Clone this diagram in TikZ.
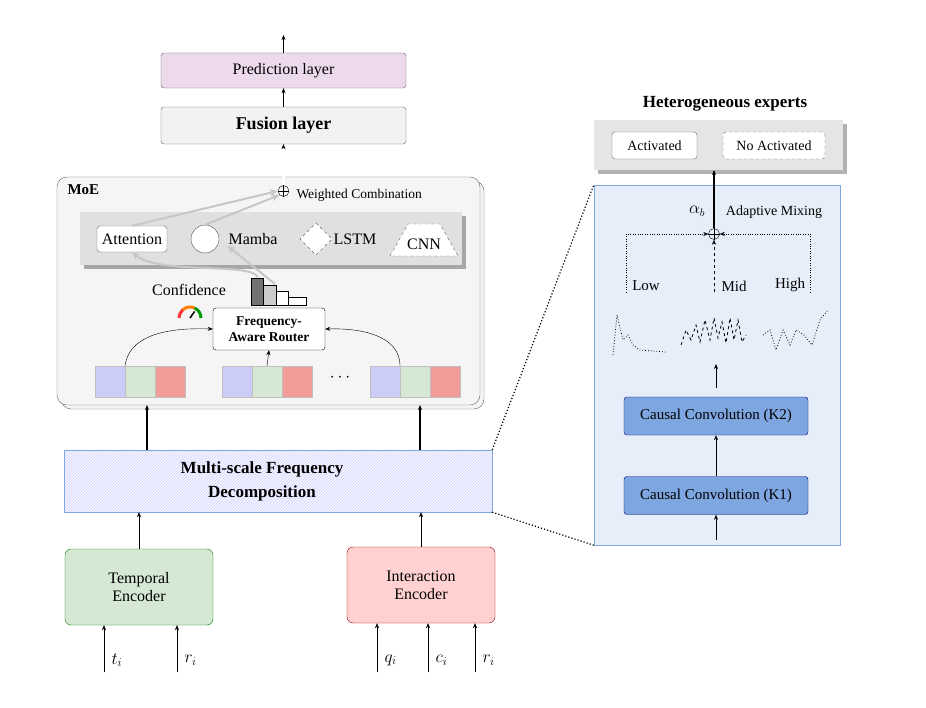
\documentclass[tikz,border=0pt]{standalone}
\usepackage{fontspec}
\setmainfont{Liberation Serif}
\usetikzlibrary{arrows.meta,shapes.geometric,patterns,calc}
\begin{document}
\begin{tikzpicture}[x=1pt,y=-1pt,>={Stealth[length=5pt,width=4pt]},
  font=\fontsize{16}{18}\selectfont,
  box/.style={draw=black!60,rounded corners=3pt,align=center},
  cell/.style={draw=black!25,minimum width=30pt,minimum height=31pt,inner sep=0},
  garr/.style={draw=black!22,line width=2pt,-{Stealth[length=8pt,width=7pt]}},
  conv/.style={draw=blue!40!black,fill=convc,rounded corners=3pt,minimum width=184pt,minimum height=38pt,font=\fontsize{15}{17}\selectfont},
  lbl/.style={inner sep=1pt}]
\definecolor{lav}{HTML}{CCCCF8}\definecolor{grn}{HTML}{D5E8D4}\definecolor{rd}{HTML}{F19C99}
\definecolor{convc}{HTML}{7EA6E0}\definecolor{pane}{HTML}{E6EEFA}
\useasboundingbox (0,0) rectangle (926,708);
\fill[white] (0,0) rectangle (926,708);
% top layers
\node[box,fill=violet!15,minimum width=245pt,minimum height=35pt] (pred) at (283.5,70.5) {Prediction layer};
\node[box,fill=black!5,minimum width=245pt,minimum height=37pt,font=\fontsize{18}{20}\selectfont\bfseries] (fus) at (283.5,125.5) {Fusion layer};
\coordinate (top) at (283.5,35);
\draw[->] (pred.north) -- (top);
\draw[->] (fus.north) -- (pred.south);
% MoE
\draw[black!60,fill=black!4,rounded corners=10pt] (61,181) rectangle (484,409);
\node[draw=black!60,fill=black!4,rounded corners=10pt,minimum width=423pt,minimum height=228pt,inner sep=0] (moe) at (268.5,291) {};
\node[font=\fontsize{15}{17}\selectfont\bfseries,anchor=west] (moet) at (64,190) {MoE};
\node[circle,draw,inner sep=0,minimum size=11pt] (op) at (283.5,191) {};
\draw (op.north)--(op.south) (op.west)--(op.east);
\node[anchor=west,font=\fontsize{13.5}{15}\selectfont] (wc) at (293,195) {Weighted Combination};
\draw[->,double,double distance=3pt] (op.north) -- (fus.south);
% experts band
\fill[black!35] (84,216) rectangle (466,269);
\node[fill=black!12,minimum width=382pt,minimum height=53pt,inner sep=0] (band) at (271,238.5) {};
\node[box,fill=white,minimum width=70pt,minimum height=26pt,inner sep=1pt] (att) at (132,239) {Attention};
\node[circle,draw=black!70,fill=white,minimum size=28pt,inner sep=0] (mam) at (205,239) {};
\node[lbl] (mamt) at (253,239) {Mamba};
\draw[black!60,dashed,fill=white] (316,223) -- (332,239) -- (316,255) -- (300,239) -- cycle;
\node[lbl] (lstmt) at (355,239) {LSTM};
\draw[black!60,dashed,fill=white] (390,256) -- (408,224) -- (440,224) -- (458,256) -- cycle;
\node[lbl] (cnnt) at (424,244) {CNN};
% bars
\draw[fill=black!55] (251,278) rectangle (263,305);
\draw[fill=black!20] (263,285) rectangle (276,305);
\draw[fill=white] (276,291) rectangle (288,305);
\draw[fill=white] (288,297) rectangle (306,305);
\coordinate (b1) at (258,277);
\coordinate (b2) at (275,284);
\draw[garr] (att.north) -- (op.west);
\draw[garr] (mam.north) -- (op.south west);
\draw[garr] (b1) .. controls (250,262) and (160,275) .. (att.south);
\draw[garr] (b2) -- (mamt.south west);
% confidence
\node[lbl] (conf) at (189,290) {Confidence};
\begin{scope}[shift={(190,318)}]
\draw[line width=3pt,red!80] (-11,0) arc[start angle=180,end angle=230,radius=11];
\draw[line width=3pt,orange] (230:11) arc[start angle=230,end angle=295,radius=11];
\draw[line width=3pt,green!60!black] (295:11) arc[start angle=295,end angle=360,radius=11];
\draw[line width=1.5pt] (0,0) -- (305:8);
\end{scope}
% router
\node[box,draw=black,fill=white,minimum width=112pt,minimum height=42pt,font=\fontsize{13.5}{15.5}\selectfont\bfseries,inner sep=1pt] (rt) at (269,329) {Frequency-\\Aware Router};
% cells
\foreach \g/\x in {1/95,2/222,3/370}{
  \node[cell,fill=lav] (c\g a) at (\x+15,381.5) {};
  \node[cell,fill=grn] (c\g b) at (\x+45,381.5) {};
  \node[cell,fill=rd] (c\g c) at (\x+75,381.5) {};
}
\node (dots) at (340,378) {$\cdots$};
\draw[->] ($(c1a.north)!0.5!(c1b.north)$) .. controls (130,330) and (180,328) .. (rt.west);
\draw[->] ($(c3b.north)!0.5!(c3a.north)$) .. controls (400,335) and (360,328) .. (rt.east);
\draw[->] (c2b.north) -- (rt.south);
% MSFD
\fill[blue!4] (64,450) rectangle (492,512);
\node[draw=convc,pattern=north east lines,pattern color=blue!18,minimum width=428pt,minimum height=62pt,inner sep=0] (ms) at (278,481) {};
\node[font=\fontsize{17}{24}\selectfont\bfseries,align=center] (mst) at (262,481) {Multi-scale Frequency\\Decomposition};
\draw[->,line width=1.5pt] (147,450) -- (147,405);
\draw[->,line width=1.5pt] (420,450) -- (420,405);
% encoders
\node[draw=green!50!black,fill=grn,rounded corners=6pt,minimum width=148pt,minimum height=76pt,align=center] (te) at (139,587) {Temporal\\Encoder};
\node[draw=red!60!black,fill=red!18,rounded corners=6pt,minimum width=148pt,minimum height=76pt,align=center] (ie) at (421,585) {Interaction\\Encoder};
\draw[->] (te.north) -- (te.north |- ms.south);
\draw[->] (ie.north) -- (ie.north |- ms.south);
\foreach \n/\x/\e/\t in {t/104/te/t_i,ra/177/te/r_i,q/377/ie/q_i,c/428/ie/c_i,rb/475/ie/r_i}{
  \coordinate (in\n) at (\x,672);
  \draw[->] (in\n) -- (in\n |- \e.south);
  \node[anchor=west,font=\fontsize{18}{20}\selectfont] at (\x+4,660) {$\t$};
}
% right panel
\node[font=\fontsize{17}{19}\selectfont\bfseries] (het) at (725,104) {Heterogeneous experts};
\fill[black!30] (598,124) rectangle (847,174);
\node[fill=black!10,minimum width=249pt,minimum height=50pt,inner sep=0] (leg) at (718.5,145) {};
\node[box,fill=white,minimum width=85pt,minimum height=27pt,font=\fontsize{14}{16}\selectfont] (act) at (654.5,145.5) {Activated};
\node[box,dashed,fill=white,minimum width=102pt,minimum height=27pt,font=\fontsize{14}{16}\selectfont] (nact) at (774,145.5) {No Activated};
\node[draw=convc,fill=pane,minimum width=246pt,minimum height=360pt,inner sep=0] (bp) at (717,365) {};
\draw[dotted,line width=1.2pt] (ms.north east) -- (bp.north west);
\draw[dotted,line width=1.2pt] (ms.south east) -- (bp.south west);
\node[circle,draw,inner sep=0,minimum size=11pt] (op2) at (714,234) {};
\draw (op2.north)--(op2.south) (op2.west)--(op2.east);
\draw[->,line width=2pt] (op2.north) -- (714,170);
\node (alpha) at (697,211) {$\alpha_b$};
\node[font=\fontsize{14}{16}\selectfont] (am) at (774,212) {Adaptive Mixing};
\coordinate (lo) at (626,292); \coordinate (mi) at (714,292); \coordinate (hi) at (810,292);
\draw[dotted,->] (lo) |- (op2.west);
\draw[dashed,->] (mi) -- (op2.south);
\draw[dotted,->] (hi) |- (op2.east);
\node[font=\fontsize{15}{17}\selectfont] (lot) at (646,286) {Low};
\node[font=\fontsize{15}{17}\selectfont] (mit) at (734,286) {Mid};
\node[font=\fontsize{15}{17}\selectfont] (hit) at (790,285) {High};
\draw[dotted,thick] (613,355) -- (617,315) -- (623,340) -- (628,335) -- (633,345) -- (640,350) -- (666,352);
\draw[dashed,thick] (681,345) -- (686,330) -- (691,340) -- (696,325) -- (700,342) -- (705,320) -- (710,340) -- (714,318) -- (718,338) -- (722,322) -- (726,343) -- (730,318) -- (734,340) -- (738,320) -- (742,342) -- (746,335);
\draw[dotted,thick] (763,335) -- (770,330) -- (776,350) -- (783,330) -- (790,345) -- (796,330) -- (804,335) -- (812,345) -- (820,320) -- (828,310);
\node[conv] (k2) at (716,416) {Causal Convolution (K2)};
\node[conv] (k1) at (716,495.5) {Causal Convolution (K1)};
\coordinate (kin) at (716,540);
\coordinate (kout) at (716,364);
\coordinate (kbase) at (716,388);
\draw[->] (kin) -- (k1.south);
\draw[->] (k1.north) -- (k2.south);
\draw[->] (kbase) -- (kout);
\end{tikzpicture}
\end{document}
